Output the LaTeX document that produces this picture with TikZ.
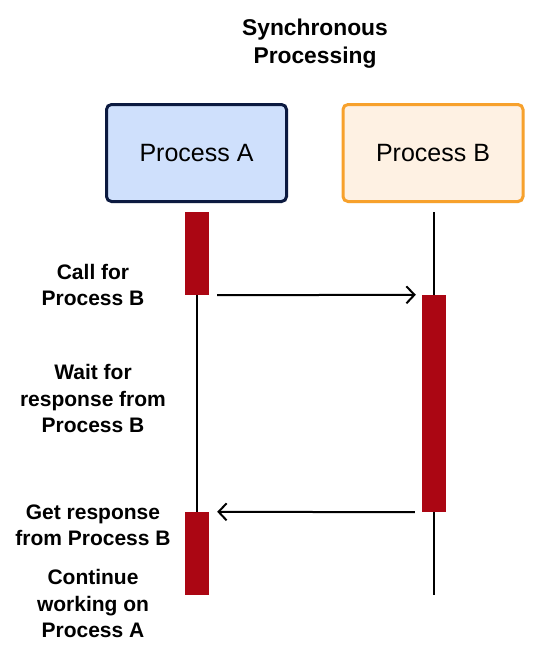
\documentclass[tikz,border=0pt]{standalone}
\usepackage{fontspec}
\setmainfont{Liberation Sans}
\setsansfont{Liberation Sans}
\usetikzlibrary{arrows.meta,shadows}

\definecolor{procA}{HTML}{CFE0FC}
\definecolor{procAline}{HTML}{0C1A40}
\definecolor{procB}{HTML}{FEF1E3}
\definecolor{procBline}{HTML}{F7A12C}
\definecolor{busy}{HTML}{AB0613}

\begin{document}
\begin{tikzpicture}[x=1pt,y=-1pt,font=\sffamily,
    proc/.style={rectangle,rounded corners=5pt,line width=3pt,minimum width=180pt,minimum height=97pt,
      font=\fontsize{25}{28}\selectfont,drop shadow={opacity=0.18,shadow xshift=1pt,shadow yshift=-1.5pt}},
    bar/.style={rectangle,fill=busy,minimum width=24pt,inner sep=0pt},
    lbl/.style={align=center,font=\fontsize{21}{26.5}\selectfont\bfseries},
    life/.style={line width=2pt},
    msg/.style={line width=2pt,-{Straight Barb[length=8pt,width=17pt]}}]
      \useasboundingbox (0,0) rectangle (542,659);
      \node[align=center,font=\fontsize{22.8}{28}\selectfont\bfseries] (title) at (315,44) {Synchronous\\Processing};
      \node[proc,draw=procAline,fill=procA] (procA) at (196.5,153) {Process A};
      \node[proc,draw=procBline,fill=procB] (procB) at (433,153) {Process B};
      \coordinate (lifeBtop) at (434,212);
      \coordinate (lifeBbot) at (434,595);
      \draw[life] (lifeBtop) -- (lifeBbot);
      \node[bar,minimum height=83pt] (barA1) at (197,253.5) {};
      \node[bar,minimum height=217pt] (barB) at (434,403.5) {};
      \node[bar,minimum height=83pt] (barA2) at (197,553.5) {};
      \draw[life] (barA1.south) -- (barA2.north);
      \draw[msg] ([xshift=8pt]barA1.south east) -- ([xshift=-6pt]barB.north west);
      \draw[msg] ([xshift=-7pt]barB.south west) -- ([xshift=8pt]barA2.north east);
      \node[lbl] (call) at (93,285) {Call for\\Process B};
      \node[lbl] (wait) at (93,398.5) {Wait for\\response from\\Process B};
      \node[lbl] (get) at (93,525.5) {Get response\\from Process B};
      \node[lbl] (cont) at (93,603.5) {Continue\\working on\\Process A};
\end{tikzpicture}
\end{document}
